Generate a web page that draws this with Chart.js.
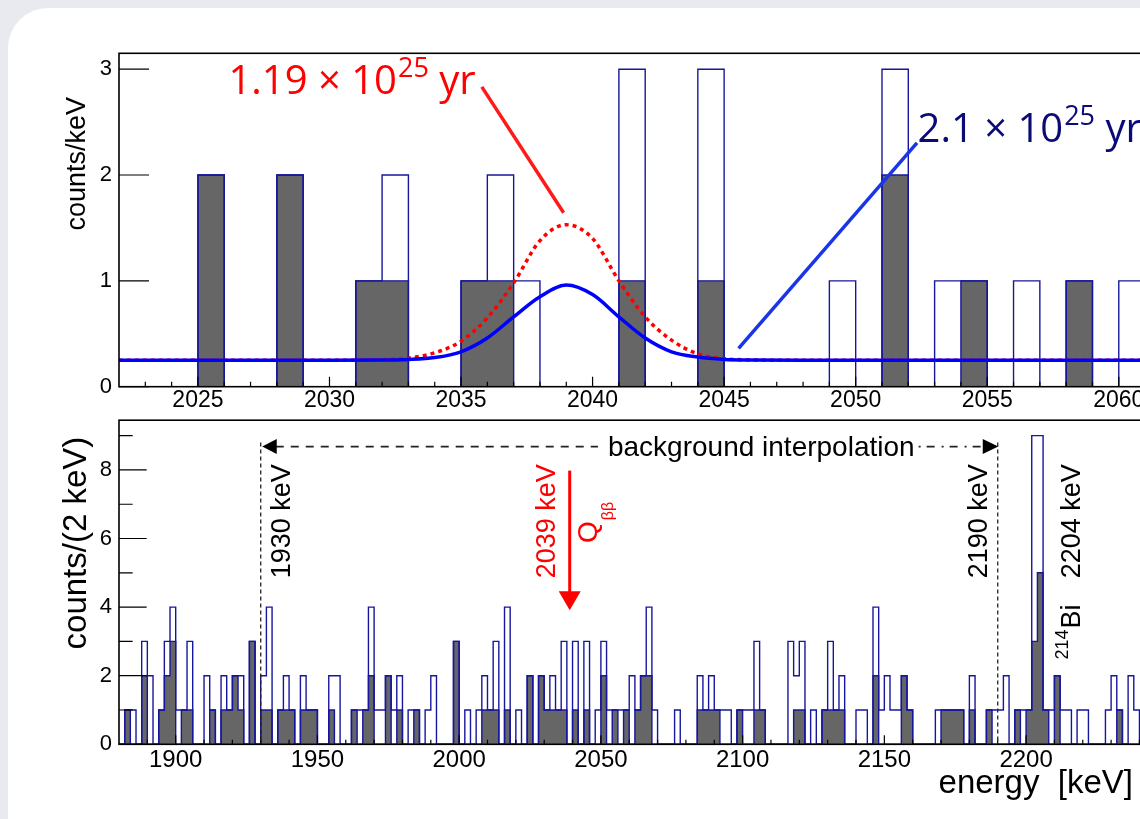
<!DOCTYPE html>
<html>
<head>
<meta charset="utf-8">
<script src="https://cdn.jsdelivr.net/npm/chart.js@4.4.1/dist/chart.umd.min.js"></script>
<style>
html,body{margin:0;padding:0;width:1140px;height:819px;overflow:hidden;background:#e9e9f0;}
#card{position:absolute;left:8px;top:8px;width:1300px;height:1000px;background:#ffffff;border-top-left-radius:40px;}
#c1{position:absolute;left:0;top:0;}
#c2{position:absolute;left:0;top:400px;}
</style>
</head>
<body>
<div id="card"></div>
<canvas id="c1" width="1200" height="420"></canvas>
<canvas id="c2" width="1200" height="419"></canvas>
<script>
// ---------------- data ----------------
// upper panel: 1 keV bins starting at 2022 keV
const topBinStart = 2022;
const topBinWidth = 1;
const topAllCounts = [0,0,0,2,0,0,2,0,0,1, 2,0,0,1,2,1,0,0,0,3, 0,0,3,0,0,0,0,1,0,3, 0,1,1,0,1,0,1,0,1,0];
const topSelCounts = [0,0,0,2,0,0,2,0,0,1, 1,0,0,1,1,0,0,0,0,1, 0,0,1,0,0,0,0,0,0,2, 0,0,1,0,0,0,1,0,0,0];

// fitted curves (counts/keV)
const fitEnergy     = [2022, 2030, 2032, 2033, 2034, 2035, 2036, 2037, 2038, 2039, 2040, 2041, 2042, 2043, 2044, 2045, 2046, 2048, 2062];
const fitBestCurve  = [0.25, 0.25, 0.252, 0.257, 0.275, 0.33, 0.46, 0.66, 0.85, 0.96, 0.87, 0.66, 0.46, 0.33, 0.28, 0.258, 0.252, 0.25, 0.25];
const fitLimitCurve = [0.25, 0.25, 0.255, 0.27, 0.32, 0.43, 0.65, 0.98, 1.38, 1.53, 1.40, 1.0, 0.66, 0.44, 0.31, 0.265, 0.253, 0.25, 0.25];

// lower panel: 2 keV bins starting at 1880 keV
const lowBinStart = 1880;
const lowBinWidth = 2;
const lowAllCounts = [
  0,1,1,0,3,2,0,1,3,4,  1,1,3,0,0,2,1,0,2,1,  2,2,0,3,0,2,4,0,1,2,  1,0,2,1,1,0,0,2,2,0,
  0,1,1,1,4,1,1,2,1,2,  0,1,1,0,1,2,0,0,0,3,  0,1,0,1,2,1,3,0,4,0,  1,0,2,0,2,1,2,1,3,0,
  3,0,3,0,1,3,1,1,1,1,  2,1,2,4,1,0,0,0,1,0,  0,0,2,1,2,1,1,1,0,1,  1,1,3,1,0,0,0,0,3,2,
  3,0,1,0,1,3,1,2,0,0,  1,1,0,4,1,2,1,1,2,1,  0,0,0,0,1,1,1,1,1,0,  2,0,0,1,1,1,2,0,1,1,
  1,9,9,1,1,2,1,1,0,1,  1,0,0,0,1,2,1,0,2,1];
const lowSelCounts = [
  0,1,0,0,2,0,0,1,2,3,  0,1,1,0,0,0,1,0,1,1,  2,1,0,3,0,1,1,0,1,1,  1,0,1,1,1,0,0,1,0,0,
  0,1,0,1,2,0,0,2,0,1,  0,0,1,0,0,0,0,0,0,3,  0,0,0,0,1,1,1,0,1,0,  0,0,2,0,2,1,1,1,1,0,
  1,0,1,0,0,2,0,1,0,1,  0,1,2,2,0,0,0,0,0,0,  0,0,1,1,1,1,0,0,0,1,  0,0,1,1,0,0,0,0,0,1,
  1,0,0,0,1,1,1,1,0,0,  0,0,0,2,0,0,0,0,2,1,  0,0,0,0,0,1,1,1,1,0,  1,0,0,1,0,0,0,0,1,0,
  1,3,5,1,0,2,0,0,0,0,  0,0,0,0,0,0,1,0,0,0];

// tick labels
const topXTicks = [2025, 2030, 2035, 2040, 2045, 2050, 2055, 2060];
const topYTicks = [0, 1, 2, 3];
const lowXTicks = [1900, 1950, 2000, 2050, 2100, 2150, 2200];
const lowYTicks = [0, 2, 4, 6, 8];
const lowYMinorTicks = [1, 3, 5, 7, 9];

// marked energies (keV)
const windowLow = 1930, windowHigh = 2190, qbb = 2039;

// ---------------- helpers ----------------
const NAVY = '#16169c';
const SANS = "'Liberation Sans', Arial, sans-serif";
const OPEN = "'Open Sans', 'Noto Sans', sans-serif";

function histPoints(start, width, counts) {
  const pts = counts.map((c, i) => ({x: start + i * width, y: c}));
  pts.push({x: start + counts.length * width, y: 0});
  return pts;
}
function curvePoints(xs, ys) { return xs.map((e, i) => ({x: e, y: ys[i]})); }

function richText(ctx, x, y, parts, color, family, rotate) {
  ctx.save();
  ctx.translate(x, y);
  if (rotate) ctx.rotate(-Math.PI / 2);
  ctx.fillStyle = color;
  ctx.textAlign = 'left';
  ctx.textBaseline = 'alphabetic';
  let u = 0;
  for (const p of parts) {
    ctx.font = p.size + 'px ' + family;
    u += p.gap || 0;
    ctx.fillText(p.t, u, p.dy || 0);
    u += ctx.measureText(p.t).width;
  }
  ctx.restore();
}
function rotText(ctx, txt, x, y, size, color, align) {
  ctx.save();
  ctx.translate(x, y);
  ctx.rotate(-Math.PI / 2);
  ctx.font = size + 'px ' + SANS;
  ctx.fillStyle = color;
  ctx.textAlign = align || 'left';
  ctx.textBaseline = 'alphabetic';
  ctx.fillText(txt, 0, 0);
  ctx.restore();
}
function seg(ctx, x1, y1, x2, y2, color, w, dash) {
  ctx.save();
  ctx.strokeStyle = color; ctx.lineWidth = w;
  ctx.setLineDash(dash || []);
  ctx.beginPath(); ctx.moveTo(x1, y1); ctx.lineTo(x2, y2); ctx.stroke();
  ctx.restore();
}
function tri(ctx, pts, color) {
  ctx.save(); ctx.fillStyle = color; ctx.beginPath();
  ctx.moveTo(pts[0][0], pts[0][1]); ctx.lineTo(pts[1][0], pts[1][1]); ctx.lineTo(pts[2][0], pts[2][1]);
  ctx.closePath(); ctx.fill(); ctx.restore();
}

const framePlugin = {
  id: 'frame',
  afterDatasetsDraw(chart, args, o) {
    const {ctx, chartArea: a, scales: {x, y}} = chart;
    ctx.save();
    ctx.strokeStyle = '#000';
    ctx.lineWidth = 1.2;
    ctx.beginPath();
    for (let v = o.xTickStart; v <= o.xTickEnd + 1e-9; v += o.xTickStep) {
      const px = x.getPixelForValue(v);
      const major = Math.abs(v % o.xMajorEvery) < 1e-6;
      ctx.moveTo(px, a.bottom);
      ctx.lineTo(px, a.bottom - (major ? o.xMajorLen : o.xMinorLen));
    }
    for (const v of o.yMajor) {
      const py = y.getPixelForValue(v);
      ctx.moveTo(a.left, py); ctx.lineTo(a.left + o.yMajorLen, py);
    }
    for (const v of o.yMinor) {
      const py = y.getPixelForValue(v);
      ctx.moveTo(a.left, py); ctx.lineTo(a.left + o.yMinorLen, py);
    }
    ctx.stroke();
    ctx.lineWidth = 1.6;
    ctx.strokeRect(a.left, a.top, a.right - a.left, a.bottom - a.top);
    ctx.restore();
    if (o.annotate) o.annotate(chart);
  }
};

function axisCfg(min, max, ticks, fontSize, padding, fitProp, fitVal) {
  return {
    type: 'linear', min: min, max: max,
    grid: {display: false, drawTicks: false},
    border: {display: false},
    afterBuildTicks: s => { s.ticks = ticks.map(v => ({value: v})); },
    afterFit: s => { s[fitProp] = fitVal; },
    ticks: {autoSkip: false, maxRotation: 0, minRotation: 0, padding: padding, color: '#000',
            font: {family: SANS, size: fontSize, lineHeight: 1.2},
            callback: v => String(v)}
  };
}

// ---------------- upper panel ----------------
function topAnnotate(chart) {
  const {ctx, scales: {x, y}} = chart;
  // leader lines
  seg(ctx, x.getPixelForValue(2035.79), y.getPixelForValue(2.833), x.getPixelForValue(2038.9), y.getPixelForValue(1.643), '#ff1a1a', 3.5);
  seg(ctx, x.getPixelForValue(2045.55), y.getPixelForValue(0.363), x.getPixelForValue(2052.33), y.getPixelForValue(2.304), '#1a35e8', 3.5);
  // half-life labels
  richText(ctx, x.getPixelForValue(2026.16), y.getPixelForValue(2.77),
    [{t: '1.19 \u00d7 10', size: 40}, {t: '25', size: 27, dy: -17, gap: 1}, {t: ' yr', size: 40}], '#ff0000', OPEN, false);
  richText(ctx, x.getPixelForValue(2052.35), y.getPixelForValue(2.313),
    [{t: '2.1 \u00d7 10', size: 40}, {t: '25', size: 27, dy: -17, gap: 1}, {t: ' yr', size: 40}], '#0b0b78', OPEN, false);
  // axis title
  rotText(ctx, 'counts/keV', 85, 97, 27, '#000', 'right');
}

new Chart(document.getElementById('c1'), {
  type: 'line',
  data: {
    datasets: [
      {label: 'all events', data: histPoints(topBinStart, topBinWidth, topAllCounts), stepped: 'before',
       borderColor: NAVY, borderWidth: 1.4, fill: false, pointRadius: 0, borderJoinStyle: 'miter', order: 3},
      {label: 'after cuts', data: histPoints(topBinStart, topBinWidth, topSelCounts), stepped: 'before',
       borderColor: NAVY, borderWidth: 1.4, backgroundColor: '#666666', fill: 'origin', pointRadius: 0, borderJoinStyle: 'miter', order: 4},
      {label: 'limit', data: curvePoints(fitEnergy, fitLimitCurve), borderColor: '#ff0000', borderWidth: 3.5,
       borderDash: [4, 4], cubicInterpolationMode: 'monotone', pointRadius: 0, fill: false, order: 2},
      {label: 'best fit', data: curvePoints(fitEnergy, fitBestCurve), borderColor: '#0000ff', borderWidth: 3.5,
       cubicInterpolationMode: 'monotone', pointRadius: 0, fill: false, order: 1}
    ]
  },
  options: {
    responsive: false, animation: false, devicePixelRatio: 1, events: [],
    layout: {padding: {top: 53.3, left: 0, right: 28.6, bottom: 0}},
    plugins: {
      legend: {display: false}, tooltip: {enabled: false},
      frame: {xTickStart: 2023, xTickEnd: 2061, xTickStep: 1, xMajorEvery: 5, xMajorLen: 10, xMinorLen: 5,
              yMajor: topYTicks, yMinor: [], yMajorLen: 30, yMinorLen: 0, annotate: topAnnotate}
    },
    scales: {
      x: axisCfg(2022, 2062, topXTicks, 23, 0, 'height', 33.3),
      y: axisCfg(0, 3.15, topYTicks, 22, 7, 'width', 119)
    }
  },
  plugins: [framePlugin]
});

// ---------------- lower panel ----------------
function lowAnnotate(chart) {
  const {ctx, scales: {x, y}} = chart;
  const xl = x.getPixelForValue(windowLow), xh = x.getPixelForValue(windowHigh);
  const ya = y.getPixelForValue(8.68), y0 = y.getPixelForValue(0);
  // vertical dashed window lines
  seg(ctx, xl, y.getPixelForValue(8.8), xl, y0, '#222', 1.3, [4, 3]);
  seg(ctx, xh, y.getPixelForValue(8.8), xh, y0, '#222', 1.3, [4, 3]);
  // background interpolation label and arrow
  ctx.save();
  ctx.font = '28px ' + SANS;
  const label = 'background interpolation';
  const tx = x.getPixelForValue(2052.5);
  const tw = ctx.measureText(label).width;
  ctx.fillStyle = '#000';
  ctx.textBaseline = 'alphabetic';
  ctx.fillText(label, tx, y.getPixelForValue(8.41));
  ctx.restore();
  seg(ctx, xl + 15, ya, tx - 10, ya, '#222', 1.6, [8, 7]);
  seg(ctx, tx + tw + 4, ya, xh - 15, ya, '#222', 1.6, [2, 6, 8, 7]);
  tri(ctx, [[xl + 1.5, ya], [xl + 16, ya - 7.5], [xl + 16, ya + 7.5]], '#000');
  tri(ctx, [[xh + 0.5, ya], [xh - 15, ya - 7.5], [xh - 15, ya + 7.5]], '#000');
  // Q_bb arrow
  const xq = x.getPixelForValue(qbb);
  const yTip = y.getPixelForValue(3.91);
  seg(ctx, xq, y.getPixelForValue(7.98), xq, yTip - 17, '#ff0000', 3);
  tri(ctx, [[xq, yTip], [xq - 11, yTip - 19], [xq + 11, yTip - 19]], '#ff0000');
  // rotated labels
  rotText(ctx, '1930 keV', x.getPixelForValue(1940.3), y.getPixelForValue(4.84), 27, '#000');
  rotText(ctx, '2039 keV', x.getPixelForValue(2033.8), y.getPixelForValue(4.84), 27, '#ff0000');
  richText(ctx, x.getPixelForValue(2048.6), y.getPixelForValue(5.87),
    [{t: 'Q', size: 28}, {t: '\u03b2\u03b2', size: 16, dy: 16, gap: 1}], '#ff0000', SANS, true);
  rotText(ctx, '2190 keV', x.getPixelForValue(2186.2), y.getPixelForValue(4.84), 27, '#000');
  rotText(ctx, '2204 keV', x.getPixelForValue(2219.0), y.getPixelForValue(4.84), 27, '#000');
  richText(ctx, x.getPixelForValue(2219.0), y.getPixelForValue(2.47),
    [{t: '214', size: 18, dy: -12}, {t: 'Bi', size: 27, gap: 1}], '#000', SANS, true);
  // axis titles
  rotText(ctx, 'counts/(2 keV)', 86, 36.7, 33, '#000', 'right');
  ctx.save();
  ctx.font = '33px ' + SANS;
  ctx.fillStyle = '#000';
  ctx.textAlign = 'right';
  ctx.textBaseline = 'alphabetic';
  ctx.fillText('energy  [keV]', 1133, 393);
  ctx.restore();
}

new Chart(document.getElementById('c2'), {
  type: 'line',
  data: {
    datasets: [
      {label: 'all events', data: histPoints(lowBinStart, lowBinWidth, lowAllCounts), stepped: 'before',
       borderColor: NAVY, borderWidth: 1.4, fill: false, pointRadius: 0, borderJoinStyle: 'miter', order: 1},
      {label: 'after cuts', data: histPoints(lowBinStart, lowBinWidth, lowSelCounts), stepped: 'before',
       borderColor: NAVY, borderWidth: 1.4, backgroundColor: '#666666', fill: 'origin', pointRadius: 0, borderJoinStyle: 'miter', order: 2}
    ]
  },
  options: {
    responsive: false, animation: false, devicePixelRatio: 1, events: [],
    layout: {padding: {top: 15.7, left: 0, right: 32.2, bottom: 0}},
    plugins: {
      legend: {display: false}, tooltip: {enabled: false},
      frame: {xTickStart: 1890, xTickEnd: 2250, xTickStep: 10, xMajorEvery: 50, xMajorLen: 9, xMinorLen: 4.5,
              yMajor: lowYTicks, yMinor: lowYMinorTicks, yMajorLen: 27.7, yMinorLen: 13.7, annotate: lowAnnotate}
    },
    scales: {
      x: axisCfg(1880, 2250, lowXTicks, 24, 2, 'height', 74.7),
      y: axisCfg(0, 9.45, lowYTicks, 22, 7, 'width', 119)
    }
  },
  plugins: [framePlugin]
});
</script>
</body>
</html>
